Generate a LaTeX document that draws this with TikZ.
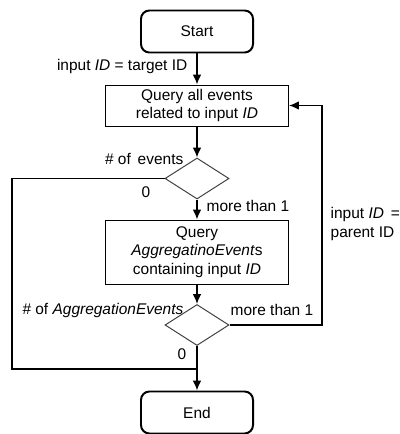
\documentclass[tikz,border=0pt]{standalone}
\usepackage{fontspec}
\setmainfont{Liberation Sans}
\usetikzlibrary{shapes.geometric,arrows.meta}
\tikzset{
  terminal/.style={draw=black,line width=1.4pt,rounded corners=6pt,minimum width=2.8cm,minimum height=1.05cm},
  process/.style={draw=black,line width=0.7pt,minimum width=4.575cm,align=center,inner sep=2pt},
  decision/.style={draw=black!75,line width=0.7pt,diamond,minimum width=1.6cm,minimum height=1.025cm,inner sep=0pt},
  flow/.style={line width=0.9pt,-{Latex[length=7pt,width=6pt]}},
  link/.style={line width=0.9pt},
  lbl/.style={inner sep=1pt}
}
\begin{document}
\begin{tikzpicture}[x=0.025cm,y=-0.025cm,font=\fontsize{11pt}{13pt}\selectfont]
    \useasboundingbox (0,0) rectangle (400,434);
    % boxes
    \node (start) [terminal] at (197,31.5) {Start};
    \node (query) [process,minimum height=1.025cm] at (197,105.5) {Query all events\\related to input \textit{ID}};
    \node (evnum) [decision] at (197,178.5) {};
    \node (aggquery) [process,minimum height=1.6cm] at (197,252) {Query\\\textit{AggregatinoEvent}s\\containing input \textit{ID}};
    \node (aggnum) [decision] at (197,325) {};
    \node (stop) [terminal] at (197,412.5) {End};
    \coordinate (merge) at (197,369);
    \coordinate (leftcol) at (12,369);
    \coordinate (loop) at (322,105.5);
    % connectors
    \draw[flow] (start) -- (query);
    \draw[flow] (query) -- (evnum);
    \draw[flow] (evnum) -- (aggquery);
    \draw[flow] (aggquery) -- (aggnum);
    \draw[flow] (aggnum) -- (stop);
    \draw[link] (evnum.west) -| (leftcol) -- (merge);
    \draw[flow] (aggnum.east) -| (loop) -- (query.east);
    % labels
    \node[lbl,anchor=east] at (189,67) {input \textit{ID} = target ID};
    \node[lbl,anchor=east] at (185,159) {\# of\, events};
    \node[lbl] at (146,192) {0};
    \node[lbl,anchor=west] at (205,206) {more than 1};
    \node[lbl,anchor=east] at (185,310) {\# of \textit{AggregationEvents}};
    \node[lbl,anchor=west] at (229,310) {more than 1};
    \node[lbl,anchor=west,align=left] at (329,224) {input \textit{ID}\, =\\parent ID};
    \node[lbl] at (182,354) {0};
\end{tikzpicture}
\end{document}
